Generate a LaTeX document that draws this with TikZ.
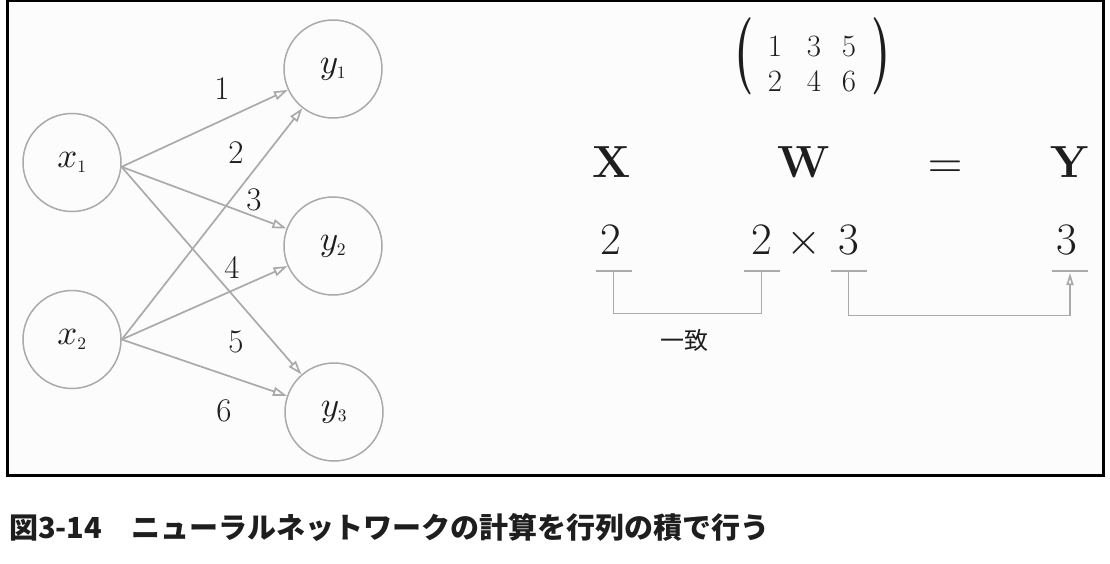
\documentclass[tikz,border=0pt]{standalone}
\usepackage{fontspec}
\usetikzlibrary{arrows.meta}
\DeclareFontShape{OML}{cmm}{m}{it}{<->cmmi10}{}
\DeclareFontShape{OMS}{cmsy}{m}{n}{<->cmsy10}{}
\DeclareFontShape{OMX}{cmex}{m}{n}{<->cmex10}{}
\DeclareFontShape{OT1}{cmr}{m}{n}{<->cmr10}{}
\newfontfamily\cjk{Noto Sans CJK JP}
\definecolor{linegray}{HTML}{AAAAAA}
\definecolor{paper}{HTML}{FCFCFC}
\definecolor{ink}{HTML}{1E1E1E}
\begin{document}
\begin{tikzpicture}[x=1pt,y=-1pt,
  neuron/.style={circle,draw=linegray,line width=1.5pt,minimum size=98pt,inner sep=0pt,
    text=ink,font=\fontsize{35}{40}\selectfont},
  conn/.style={draw=linegray,line width=1.7pt,-{Triangle[open,length=14pt,width=9pt]}},
  wlabel/.style={text=ink,font=\fontsize{33}{38}\selectfont,inner sep=0pt},
  bigtxt/.style={text=ink,font=\fontsize{45}{54}\selectfont,anchor=base,inner sep=0pt},
  mtx/.style={text=ink,font=\fontsize{31}{37}\selectfont,anchor=base,inner sep=0pt},
  paren/.style={text=ink,font=\fontsize{44}{44}\selectfont\bfseries,inner sep=0pt},
  tick/.style={draw=linegray,line width=1.7pt},
  bracket/.style={draw=linegray,line width=1.7pt},
  uparrow/.style={bracket,-{Triangle[open,length=12pt,width=7pt]}}
]
\useasboundingbox (0,0) rectangle (1110,564);
\fill[white] (0,0) rectangle (1110,564);
\draw[line width=2.5pt,fill=paper] (7.5,0.5) rectangle (1103.5,475.5);

% neurons
\node[neuron] (x1) at (72,162.5) {$x_{\scriptscriptstyle 1}$};
\node[neuron] (x2) at (72,339.5) {$x_{\scriptscriptstyle 2}$};
\node[neuron] (y1) at (333,69) {$y_{\scriptscriptstyle 1}$};
\node[neuron] (y2) at (333,246) {$y_{\scriptscriptstyle 2}$};
\node[neuron] (y3) at (334,412) {$y_{\scriptscriptstyle 3}$};

% connections
\draw[conn] (x1.-5) -- (y1);
\draw[conn] (x1.-5) -- (y2);
\draw[conn] (x1.-5) -- (y3);
\draw[conn] (x2.east) -- (y1);
\draw[conn] (x2.east) -- (y2);
\draw[conn] (x2.east) -- (y3);

% weights
\node[wlabel] (w1) at (222,89) {1};
\node[wlabel] (w2) at (236,153) {2};
\node[wlabel] (w3) at (254,200) {3};
\node[wlabel] (w4) at (232,267) {4};
\node[wlabel] (w5) at (236,342) {5};
\node[wlabel] (w6) at (224,411) {6};

% matrix
\node[paren] (lp) at (744,56.5) {\scalebox{1}[1.75]{(}};
\node[paren] (rp) at (881,56.5) {\scalebox{1}[1.75]{)}};
\node[mtx] (m11) at (775,57) {1};
\node[mtx] (m12) at (814,57) {3};
\node[mtx] (m13) at (849,57) {5};
\node[mtx] (m21) at (775,92) {2};
\node[mtx] (m22) at (814,92) {4};
\node[mtx] (m23) at (849,92) {6};

% X W = Y
\node[bigtxt] (X) at (612,178) {\textbf{X}};
\node[bigtxt] (W) at (804,178) {\textbf{W}};
\node[bigtxt] (eq) at (945,178) {$=$};
\node[bigtxt] (Y) at (1070,178) {\textbf{Y}};

% shapes
\node[bigtxt] (d1) at (611,254) {2};
\node[bigtxt] (d2) at (762,254) {2};
\node[bigtxt] (tm) at (804,254) {$\times$};
\node[bigtxt] (d3) at (849,254) {3};
\node[bigtxt] (d4) at (1067,254) {3};

% brackets
\coordinate (b1) at (613.5,271);
\coordinate (b2) at (761.5,271);
\coordinate (b3) at (848.5,271);
\coordinate (b4) at (1070,271);
\coordinate (b4t) at (1070,273);
\foreach \b in {b1,b2,b3,b4}{
  \draw[tick] ([xshift=-18pt]\b) -- ([xshift=18pt]\b);
}
\draw[bracket] (b1) -- ++(0,42.5) -| (b2);
\draw[uparrow] (b3) -- ++(0,44.5) -| (b4t);

\node[text=ink,font=\cjk\fontsize{24}{28}\selectfont,inner sep=0pt] (match) at (684,340) {一致};

% caption
\node[anchor=west,text=ink,font=\cjk\bfseries\fontsize{29}{32}\selectfont,inner sep=0pt] (cap) at (9,527)
  {図3-14　ニューラルネットワークの計算を行列の積で行う};
\end{tikzpicture}
\end{document}
